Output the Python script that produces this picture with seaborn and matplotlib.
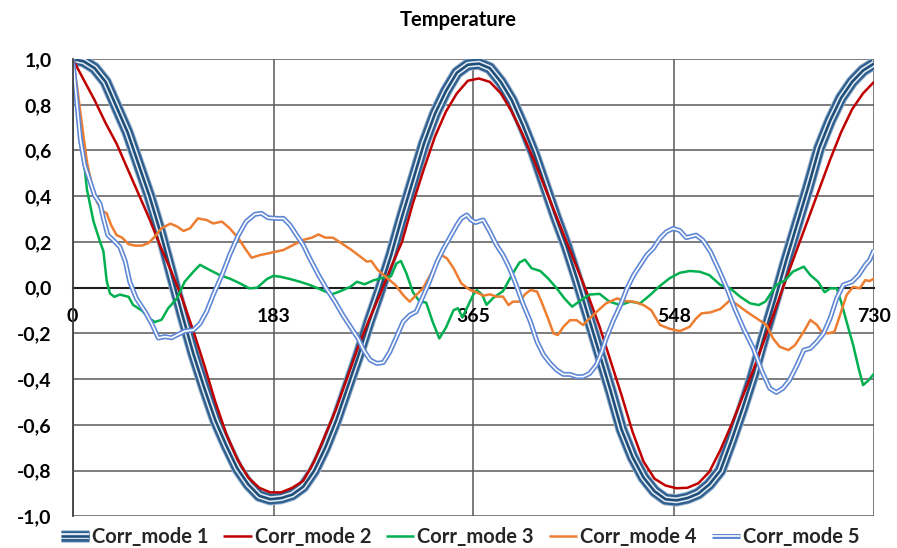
import numpy as np
import pandas as pd
import matplotlib
matplotlib.use("Agg")
import matplotlib.pyplot as plt
import seaborn as sns
from matplotlib.lines import Line2D
from matplotlib.legend_handler import HandlerTuple

# ---------------------------------------------------------------- data
series_names = ["Corr_mode 1", "Corr_mode 2", "Corr_mode 3", "Corr_mode 4", "Corr_mode 5"]

x_ticks = [0, 183, 365, 548, 730]
x_tick_labels = ["0", "183", "365", "548", "730"]
y_ticks = [-1.0, -0.8, -0.6, -0.4, -0.2, 0.0, 0.2, 0.4, 0.6, 0.8, 1.0]
y_tick_labels = ["-1,0", "-0,8", "-0,6", "-0,4", "-0,2", "0,0", "0,2", "0,4", "0,6", "0,8", "1,0"]

# modes 1 and 2 sampled every 10 days
days_10 = list(range(0, 731, 10))

mode1 = [1.00, 0.99, 0.96, 0.90, 0.79, 0.68, 0.54, 0.40, 0.24, 0.06,
         -0.12, -0.29, -0.44, -0.58, -0.69, -0.79, -0.86, -0.91, -0.925, -0.92,
         -0.905, -0.87, -0.80, -0.70, -0.58, -0.44, -0.30, -0.15, -0.01, 0.14,
         0.31, 0.47, 0.63, 0.76, 0.86, 0.94, 0.975, 0.98, 0.96, 0.90,
         0.82, 0.71, 0.59, 0.45, 0.31, 0.18, 0.03, -0.13, -0.29, -0.45,
         -0.62, -0.74, -0.83, -0.89, -0.925, -0.93, -0.92, -0.90, -0.86, -0.80,
         -0.67, -0.53, -0.38, -0.21, -0.05, 0.12, 0.28, 0.44, 0.61, 0.73,
         0.83, 0.90, 0.95, 0.98]

mode2 = [1.00, 0.91, 0.82, 0.72, 0.63, 0.52, 0.41, 0.30, 0.18, 0.07,
         -0.05, -0.19, -0.34, -0.50, -0.64, -0.75, -0.83, -0.875, -0.895, -0.895,
         -0.875, -0.845, -0.76, -0.645, -0.53, -0.395, -0.26, -0.14, -0.03, 0.09,
         0.20, 0.37, 0.52, 0.66, 0.77, 0.85, 0.905, 0.915, 0.90, 0.85,
         0.77, 0.67, 0.56, 0.44, 0.32, 0.20, 0.08, -0.04, -0.17, -0.32,
         -0.47, -0.63, -0.76, -0.835, -0.865, -0.877, -0.875, -0.855, -0.805, -0.71,
         -0.60, -0.48, -0.36, -0.23, -0.095, 0.04, 0.17, 0.30, 0.43, 0.56,
         0.68, 0.78, 0.85, 0.90]

mode3_days = [0, 3, 8, 13, 19, 25, 28, 31, 34, 38, 43, 51, 55, 63, 70, 75, 81, 87, 95,
              102, 110, 116, 125, 134, 143, 152, 161, 168, 177, 183, 189, 198, 207, 216,
              225, 236, 243, 253, 259, 266, 274, 283, 290, 295, 299, 304, 310, 316, 322,
              328, 334, 340, 347, 351, 355, 361, 365, 368, 373, 377, 383, 392, 400, 407,
              412, 418, 426, 433, 441, 448, 455, 462, 471, 480, 489, 499, 508, 517, 526,
              535, 544, 553, 562, 571, 580, 590, 599, 608, 617, 625, 631, 637, 641, 649,
              656, 666, 672, 679, 685, 690, 696, 700, 705, 711, 716, 720, 725, 730]
mode3 = [1.00, 0.85, 0.65, 0.43, 0.29, 0.20, 0.16, 0.03, -0.025, -0.04, -0.03, -0.04,
         -0.075, -0.10, -0.135, -0.15, -0.14, -0.09, -0.047, 0.026, 0.07, 0.10, 0.077,
         0.055, 0.04, 0.02, -0.003, 0.0, 0.038, 0.052, 0.048, 0.038, 0.026, 0.012,
         -0.006, -0.029, -0.017, 0.004, 0.026, 0.015, 0.032, 0.044, 0.05, 0.106, 0.117,
         0.063, -0.02, -0.06, -0.065, -0.15, -0.222, -0.175, -0.098, -0.09, -0.13,
         -0.07, -0.03, -0.01, -0.03, -0.075, -0.045, -0.015, 0.055, 0.11, 0.123, 0.085,
         0.073, 0.041, -0.003, -0.047, -0.083, -0.058, -0.03, -0.027, -0.061, -0.076,
         -0.061, -0.068, -0.032, 0.008, 0.042, 0.065, 0.073, 0.07, 0.055, 0.012, -0.003,
         -0.039, -0.068, -0.076, -0.061, -0.017, 0.012, 0.032, 0.07, 0.092, 0.055,
         0.026, -0.02, -0.003, -0.003, -0.061, -0.149, -0.251, -0.353, -0.426, -0.405,
         -0.376]

mode4_days = [0, 4, 8, 13, 17, 22, 26, 31, 35, 40, 45, 51, 57, 63, 69, 75, 81, 89, 95,
              101, 107, 114, 122, 128, 136, 143, 151, 157, 163, 171, 180, 192, 201, 210,
              218, 224, 230, 237, 245, 254, 262, 268, 272, 278, 286, 294, 301, 307, 313,
              319, 325, 331, 336, 341, 347, 354, 362, 368, 374, 380, 386, 392, 397, 401,
              407, 412, 417, 423, 427, 433, 438, 442, 447, 453, 459, 465, 471, 479, 486,
              496, 502, 511, 520, 527, 535, 544, 553, 562, 568, 573, 581, 590, 599, 605,
              614, 623, 632, 638, 644, 652, 658, 666, 672, 678, 682, 688, 694, 699, 705,
              711, 717, 722, 726, 730]
mode4 = [1.00, 0.88, 0.73, 0.55, 0.46, 0.376, 0.34, 0.325, 0.274, 0.23, 0.219, 0.19,
         0.184, 0.184, 0.195, 0.224, 0.26, 0.28, 0.268, 0.248, 0.26, 0.303, 0.296, 0.281,
         0.289, 0.26, 0.216, 0.172, 0.131, 0.143, 0.152, 0.165, 0.187, 0.209, 0.219,
         0.233, 0.219, 0.219, 0.194, 0.165, 0.136, 0.114, 0.117, 0.077, 0.044, 0.012,
         -0.032, -0.061, -0.032, -0.003, 0.048, 0.106, 0.143, 0.128, 0.085, 0.019,
         -0.01, -0.02, -0.035, -0.029, -0.039, -0.039, -0.076, -0.061, -0.061, -0.029,
         -0.01, -0.017, -0.061, -0.134, -0.20, -0.207, -0.171, -0.142, -0.142, -0.163,
         -0.134, -0.098, -0.068, -0.047, -0.058, -0.061, -0.076, -0.098, -0.163, -0.18,
         -0.19, -0.171, -0.134, -0.112, -0.108, -0.093, -0.054, -0.073, -0.105, -0.134,
         -0.163, -0.222, -0.258, -0.273, -0.251, -0.192, -0.141, -0.163, -0.192, -0.20,
         -0.192, -0.12, -0.032, 0.004, -0.003, 0.033, 0.029, 0.041]

mode5_days = [0, 3, 7, 11, 16, 20, 25, 28, 32, 37, 43, 48, 52, 58, 66, 72, 78, 84, 90,
              95, 102, 110, 116, 122, 128, 136, 143, 151, 158, 166, 172, 178, 186, 192,
              198, 204, 210, 216, 224, 231, 239, 246, 254, 260, 265, 271, 277, 283, 289,
              295, 301, 307, 313, 319, 325, 332, 338, 344, 350, 354, 359, 363, 367, 371,
              374, 380, 386, 392, 398, 404, 410, 417, 423, 429, 435, 441, 447, 453, 459,
              465, 471, 477, 482, 486, 492, 499, 505, 511, 517, 523, 529, 535, 541, 547,
              553, 559, 568, 574, 581, 588, 596, 603, 611, 620, 628, 635, 641, 647, 653,
              660, 666, 672, 678, 684, 690, 696, 702, 710, 716, 722, 726, 730]
mode5 = [1.00, 0.85, 0.65, 0.536, 0.462, 0.403, 0.367, 0.303, 0.23, 0.208, 0.178, 0.114,
         0.026, -0.047, -0.105, -0.157, -0.22, -0.214, -0.219, -0.207, -0.19, -0.185,
         -0.157, -0.105, -0.032, 0.055, 0.143, 0.23, 0.289, 0.321, 0.325, 0.306, 0.303,
         0.303, 0.274, 0.23, 0.187, 0.128, 0.055, -0.003, -0.061, -0.119, -0.178, -0.222,
         -0.273, -0.316, -0.331, -0.327, -0.28, -0.215, -0.149, -0.12, -0.105, -0.039,
         0.026, 0.114, 0.172, 0.223, 0.274, 0.303, 0.318, 0.296, 0.285, 0.292, 0.296,
         0.245, 0.187, 0.143, 0.085, 0.012, -0.068, -0.149, -0.236, -0.294, -0.331,
         -0.36, -0.379, -0.379, -0.389, -0.389, -0.375, -0.338, -0.28, -0.222, -0.149,
         -0.076, -0.003, 0.055, 0.099, 0.143, 0.172, 0.216, 0.245, 0.259, 0.25, 0.219,
         0.23, 0.208, 0.157, 0.085, -0.003, -0.09, -0.178, -0.265, -0.367, -0.44, -0.458,
         -0.44, -0.404, -0.338, -0.273, -0.265, -0.236, -0.20, -0.134, -0.047, 0.012,
         0.026, 0.055, 0.099, 0.121, 0.165]

# ---------------------------------------------------------------- style
sns.set_theme(style="white")
plt.rcParams["font.family"] = ["Lato", "DejaVu Sans"]
plt.rcParams["font.weight"] = "bold"

DARK_BLUE = "#1F4E79"
MID_BLUE = "#2F5F8F"
RIM_BLUE = "#9AB3CD"
PALE = "#E4ECF4"
RED = "#C00000"
GREEN = "#00B050"
ORANGE = "#ED7D31"
LIGHT_BLUE = "#5F88D4"

fig = plt.figure(figsize=(8.97, 5.48), dpi=100)
ax = fig.add_axes([0.081, 0.0577, 0.8934, 0.8346])


def draw(days, values, layers):
    df = pd.DataFrame({"day": days, "value": values})
    for color, lw in layers:
        sns.lineplot(data=df, x="day", y="value", ax=ax, color=color, lw=lw,
                     estimator=None, sort=False, legend=False,
                     solid_joinstyle="round", solid_capstyle="butt")


layers1 = [(RIM_BLUE, 9.0), (MID_BLUE, 7.6), (PALE, 4.2), (DARK_BLUE, 1.9)]
layers2 = [(RED, 1.8)]
layers3 = [(GREEN, 1.8)]
layers4 = [(ORANGE, 1.8)]
layers5 = [(LIGHT_BLUE, 3.6), ("white", 1.2)]

draw(days_10, mode1, layers1)
draw(days_10, mode2, layers2)
draw(mode3_days, mode3, layers3)
draw(mode4_days, mode4, layers4)
draw(mode5_days, mode5, layers5)

# ---------------------------------------------------------------- axes
ax.set_xlim(0, 730)
ax.set_ylim(-1.0, 1.0)
ax.set_xticks(x_ticks)
ax.set_xticklabels(x_tick_labels)
ax.set_yticks(y_ticks)
ax.set_yticklabels(y_tick_labels)
ax.set_xlabel("")
ax.set_ylabel("")

ax.grid(True, axis="both", color="#595959", lw=1.1)
ax.set_axisbelow(True)

for side in ("top", "right"):
    ax.spines[side].set_visible(False)
ax.spines["left"].set_color("#404040")
ax.spines["left"].set_linewidth(1.3)
ax.spines["bottom"].set_position(("data", 0))
ax.spines["bottom"].set_color("#202020")
ax.spines["bottom"].set_linewidth(1.5)
ax.spines["bottom"].set_zorder(1.5)

ax.tick_params(axis="x", length=0, pad=14.5, labelsize=14, colors="black")
ax.tick_params(axis="y", length=0, pad=15, labelsize=14, colors="black")
for lab in ax.get_xticklabels() + ax.get_yticklabels():
    lab.set_fontweight("bold")

fig.text(0.511, 1 - 20 / 548, "Temperature", ha="center", va="center",
         fontsize=14.5, fontweight="bold", color="black")

# ---------------------------------------------------------------- legend
def compound(layers):
    return tuple(Line2D([], [], color=c, lw=w, solid_capstyle="butt") for c, w in layers)


handles = [compound(layers1), compound(layers2), compound(layers3),
           compound(layers4), compound(layers5)]
leg = fig.legend(handles, series_names, loc="center",
                 bbox_to_anchor=(0.513, 1 - 537 / 548), ncol=5, frameon=False,
                 fontsize=14.5, handlelength=1.4, handletextpad=0.15,
                 columnspacing=0.75, borderpad=0.1,
                 handler_map={tuple: HandlerTuple(ndivide=1, pad=0)})
for t in leg.get_texts():
    t.set_fontweight("bold")

fig.savefig("out.png", dpi=100)
